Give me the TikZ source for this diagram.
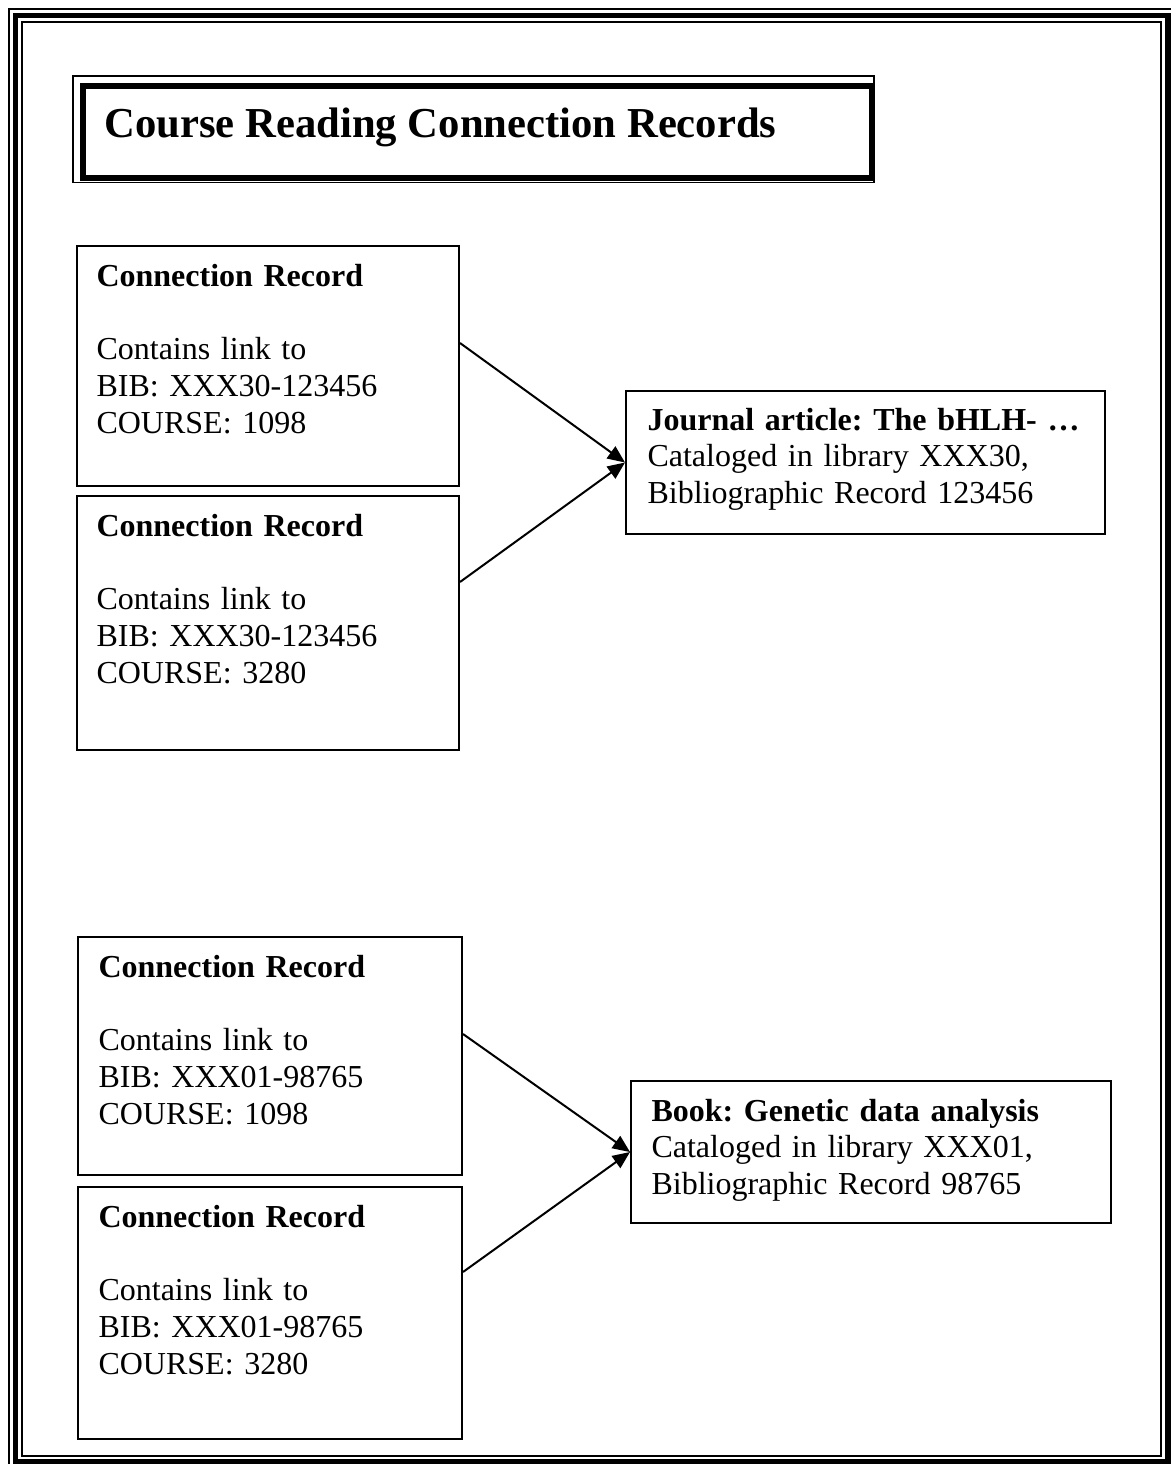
\documentclass[tikz,border=0pt]{standalone}
\usepackage{fontspec}
\setmainfont{Liberation Serif}
\usetikzlibrary{arrows.meta}
\newcommand\pxu{0.375pt}
\frenchspacing
\begin{document}
\begin{tikzpicture}[x=0.375pt,y=-0.375pt,
  recbox/.style={draw, line width=0.75pt, inner sep=0pt, anchor=north west},
  txt/.style={anchor=base west, inner sep=0pt, align=left, text width=#1,
    font=\fontsize{12pt}{13.8pt}\selectfont\frenchspacing},
  txt/.default=150pt,
  conn/.style={line width=0.75pt, -{Triangle[length=6.5pt,width=5.5pt]}},
  thinframe/.style={line width=0.75pt},
  thickframe/.style={line width=2.1pt}]
\useasboundingbox[fill=white] (0,0) rectangle (1171,1464);
% page border (thin - thick - thin)
\draw[thinframe] (9,9) rectangle (1174.5,1468);
\draw[thickframe] (15.5,15.5) rectangle (1168,1461.5);
\draw[thinframe] (21.5,21.5) rectangle (1161,1455.5);
% title box
\draw[line width=0.6pt] (73,76) rectangle (874,182.5);
\node[draw, line width=2.4pt, inner sep=0pt, anchor=north west,
  minimum width=788.5*\pxu, minimum height=92*\pxu] (T) at (80,83) {};
\node[anchor=base west, inner sep=0pt, font=\fontsize{16pt}{18.4pt}\selectfont\bfseries\frenchspacing]
  (Tt) at (104,137) {Course Reading Connection Records};
% upper group
\node[recbox, minimum width=382*\pxu, minimum height=240*\pxu] (B1) at (76,245) {};
\node[txt=140pt] (B1t) at (96,286) {\textbf{Connection Record}\\[13.8pt]Contains link to\\BIB: XXX30-123456\\COURSE: 1098};
\node[recbox, minimum width=382*\pxu, minimum height=254*\pxu] (B2) at (76,495) {};
\node[txt=140pt] (B2t) at (96,536) {\textbf{Connection Record}\\[13.8pt]Contains link to\\BIB: XXX30-123456\\COURSE: 3280};
\node[recbox, minimum width=479*\pxu, minimum height=143*\pxu] (J) at (625,390) {};
\node[txt=170pt] (Jt) at (647,430) {\textbf{Journal article: The bHLH- …}\\Cataloged in library XXX30,\\Bibliographic Record 123456};
% lower group
\node[recbox, minimum width=384*\pxu, minimum height=238*\pxu] (B3) at (77,936) {};
\node[txt=140pt] (B3t) at (98,977) {\textbf{Connection Record}\\[13.8pt]Contains link to\\BIB: XXX01-98765\\COURSE: 1098};
\node[recbox, minimum width=384*\pxu, minimum height=252*\pxu] (B4) at (77,1186) {};
\node[txt=140pt] (B4t) at (98,1227) {\textbf{Connection Record}\\[13.8pt]Contains link to\\BIB: XXX01-98765\\COURSE: 3280};
\node[recbox, minimum width=480*\pxu, minimum height=142*\pxu] (K) at (630,1080) {};
\node[txt=170pt] (Kt) at (651,1121) {\textbf{Book: Genetic data analysis}\\Cataloged in library XXX01,\\Bibliographic Record 98765};
% connectors
\draw[conn] ([yshift=23*\pxu]B1.east) -- (J.west);
\draw[conn] ([yshift=41*\pxu]B2.east) -- (J.west);
\draw[conn] ([yshift=22*\pxu]B3.east) -- (K.west);
\draw[conn] ([yshift=41*\pxu]B4.east) -- (K.west);
\end{tikzpicture}
\end{document}
